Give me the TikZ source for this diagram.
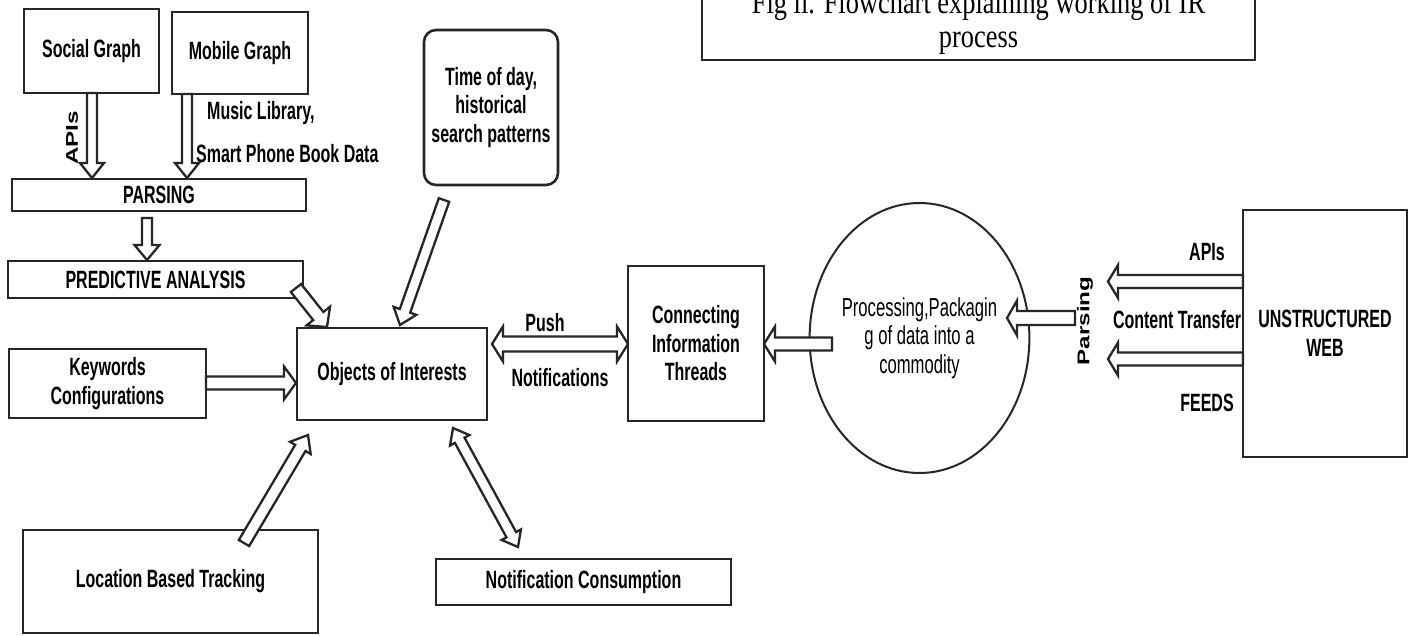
\documentclass[tikz,border=0pt]{standalone}
\usepackage{fontspec}
\setmainfont{Liberation Serif}
\newfontfamily\labfont[FakeStretch=0.64]{Liberation Sans}
\newfontfamily\rotfont[FakeStretch=1.42]{Liberation Sans}
\newfontfamily\capfont[FakeStretch=0.8]{Liberation Serif}
\usetikzlibrary{calc,shapes.geometric}
\tikzset{
  box/.style={draw=black!85, line width=2.6pt, rectangle, inner sep=0pt, align=center,
    font=\labfont\bfseries\fontsize{25}{28.5}\selectfont},
  lab/.style={inner sep=0pt, align=center, font=\labfont\bfseries\fontsize{25}{28.5}\selectfont},
  rlab/.style={inner sep=0pt, rotate=90, font=\rotfont\bfseries\fontsize{17}{20}\selectfont},
  arrowline/.style={draw=black!85, line width=2.3pt, fill=white, line join=miter},
}
\newcommand\blkarrow[5]{%
  \coordinate (bh) at ($(#2)!#5!(#1)$);
  \draw[arrowline] ($(#1)!#3!90:(#2)$) -- ($(bh)!#3!-90:(#1)$) -- ($(bh)!#4!-90:(#1)$) -- (#2)
    -- ($(bh)!#4!90:(#1)$) -- ($(bh)!#3!90:(#1)$) -- ($(#1)!#3!-90:(#2)$) -- cycle;
}
\newcommand\dblarrow[5]{%
  \coordinate (bha) at ($(#2)!#5!(#1)$);
  \coordinate (bhb) at ($(#1)!#5!(#2)$);
  \draw[arrowline] (#1) -- ($(bhb)!#4!90:(#2)$) -- ($(bhb)!#3!90:(#2)$) -- ($(bha)!#3!-90:(#1)$)
    -- ($(bha)!#4!-90:(#1)$) -- (#2) -- ($(bha)!#4!90:(#1)$) -- ($(bha)!#3!90:(#1)$)
    -- ($(bhb)!#3!-90:(#2)$) -- ($(bhb)!#4!-90:(#2)$) -- cycle;
}
\begin{document}
\begin{tikzpicture}[x=1pt,y=-1pt]
\useasboundingbox[fill=white] (0,0) rectangle (1411,635);

% caption
\node[draw=black!85, line width=2pt, minimum width=553pt, minimum height=76pt, inner sep=0pt,
  align=center, font=\capfont\fontsize{33}{34}\selectfont] (cap) at (978.5,22)
  {Fig ii. Flowchart explaining working of IR\\process};

% left column
\node[box, minimum width=135pt, minimum height=84pt] (social) at (91.5,51) {Social Graph};
\node[box, minimum width=136pt, minimum height=82pt] (mobile) at (240,53) {Mobile Graph};
\node[box, minimum width=294pt, minimum height=32pt] (parsing) at (159,195) {PARSING};
\node[box, minimum width=295pt, minimum height=37pt] (pred) at (155.5,279.5) {PREDICTIVE ANALYSIS};
\node[box, minimum width=197pt, minimum height=69pt] (kw) at (107.5,383.5) {Keywords\\Configurations};
\node[box, minimum width=295pt, minimum height=103pt] (loc) at (170.5,581.5) {Location Based Tracking};

% centre
\node[box, rounded corners=12pt, minimum width=134pt, minimum height=155pt] (time) at (491,107.5)
  {Time of day,\\historical\\search patterns};
\node[box, minimum width=190pt, minimum height=92pt] (obj) at (392,374) {Objects of Interests};
\node[box, minimum width=295pt, minimum height=46pt] (ncons) at (583.5,582) {Notification Consumption};
\node[box, minimum width=136pt, minimum height=155pt] (conn) at (696,343.5) {Connecting\\Information\\Threads};
\node[draw=black!85, line width=2pt, ellipse, inner sep=0pt, minimum width=175pt, minimum height=270pt,
  align=center, font=\labfont\fontsize{26}{28.5}\selectfont] (proc) at (919.5,338)
  {Processing,Packagin\\g of data into a\\commodity};
\node[box, minimum width=164pt, minimum height=247pt] (web) at (1325,333.5) {UNSTRUCTURED\\WEB};

% labels
\node[rlab] (apisl) at (72,138) {APIs};
\node[lab, anchor=west] (music) at (207,113) {Music Library,};
\node[lab, anchor=west] (smart) at (196,154) {Smart Phone Book Data};
\node[lab] (push) at (545,323) {Push};
\node[lab] (notif) at (560,378) {Notifications};
\node[lab] (apisr) at (1207,252) {APIs};
\node[lab] (content) at (1177,320) {Content Transfer};
\node[lab] (feeds) at (1207,403) {FEEDS};
\node[rlab] (parsl) at (1085,321) {Parsing};

% arrow end points
\coordinate (a1t) at (92,93);   \coordinate (a1h) at (92,178);
\coordinate (a2t) at (187,94);  \coordinate (a2h) at (187,178);
\coordinate (a3t) at (147,218); \coordinate (a3h) at (147,260);
\coordinate (a4t) at (296,288); \coordinate (a4h) at (327,327);
\coordinate (a5t) at (444,200); \coordinate (a5h) at (400,325);
\coordinate (a6t) at (206,383); \coordinate (a6h) at (296,383);
\coordinate (a7t) at (244,543); \coordinate (a7h) at (308,435);
\coordinate (a8a) at (453,428); \coordinate (a8b) at (518,547);
\coordinate (a9a) at (492,344); \coordinate (a9b) at (628,344);
\coordinate (b1t) at (832,344); \coordinate (b1h) at (764,344);
\coordinate (b2t) at (1075,318); \coordinate (b2h) at (1007,318);
\coordinate (b3t) at (1243,281.5); \coordinate (b3h) at (1108,281.5);
\coordinate (b4t) at (1243,359); \coordinate (b4h) at (1108,359);

\blkarrow{a1t}{a1h}{5pt}{12pt}{15pt}
\blkarrow{a2t}{a2h}{5pt}{12pt}{15pt}
\blkarrow{a3t}{a3h}{5pt}{12.5pt}{15pt}
\blkarrow{a4t}{a4h}{6.5pt}{15pt}{14pt}
\blkarrow{a5t}{a5h}{5.5pt}{12pt}{15pt}
\blkarrow{a6t}{a6h}{6.5pt}{16.5pt}{12pt}
\blkarrow{a7t}{a7h}{6pt}{12pt}{15pt}
\dblarrow{a8a}{a8b}{5.5pt}{11pt}{14pt}
\dblarrow{a9a}{a9b}{7.5pt}{17.5pt}{11pt}
\blkarrow{b1t}{b1h}{6.5pt}{17.5pt}{11pt}
\blkarrow{b2t}{b2h}{7pt}{17.5pt}{10pt}
\blkarrow{b3t}{b3h}{6.5pt}{16.5pt}{10pt}
\blkarrow{b4t}{b4h}{6.5pt}{16.5pt}{10pt}
\end{tikzpicture}
\end{document}
